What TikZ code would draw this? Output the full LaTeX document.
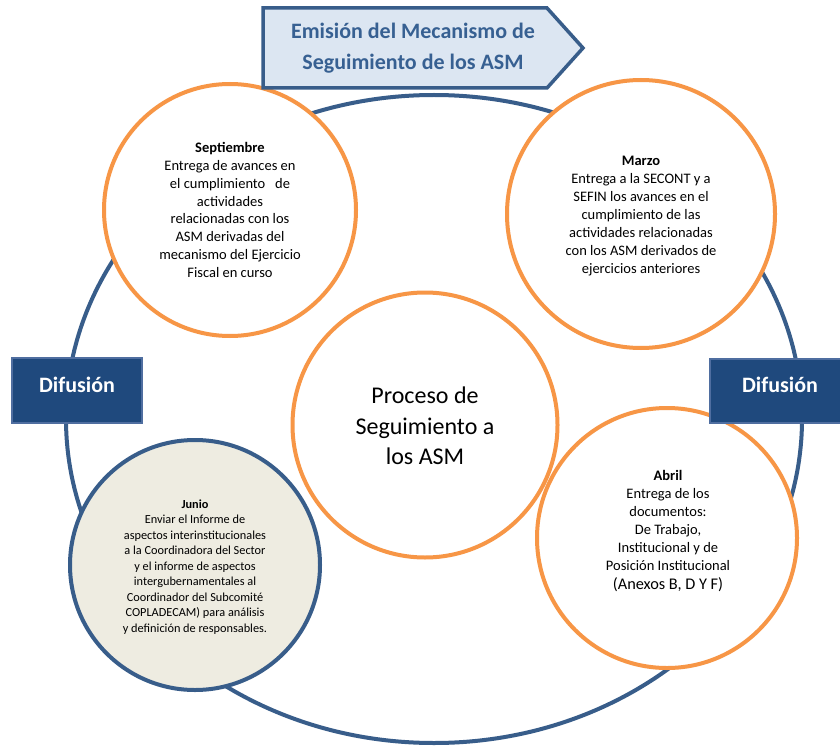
\documentclass[tikz,border=0pt]{standalone}
\usepackage{fontspec}
\setmainfont{Carlito}
\definecolor{blueline}{RGB}{56,93,138}
\definecolor{orangeline}{RGB}{247,150,70}
\definecolor{titlefill}{RGB}{220,230,242}
\definecolor{titletext}{RGB}{55,96,146}
\definecolor{diffill}{RGB}{31,73,125}
\definecolor{difdraw}{RGB}{79,110,160}
\definecolor{junfill}{RGB}{238,236,225}
\tikzset{
  orangecirc/.style={circle, draw=orangeline, line width=4pt, fill=white, inner sep=0pt},
  bluecirc/.style={circle, draw=blueline, line width=4pt, fill=junfill, inner sep=0pt},
  circtxt/.style={align=center, inner sep=0pt, font=\fontsize{14.5}{17.9}\selectfont},
  juntxt/.style={align=center, inner sep=0pt, font=\fontsize{12.3}{15.5}\selectfont},
  centertxt/.style={align=center, inner sep=0pt, font=\fontsize{24}{30.3}\selectfont},
  difbox/.style={rectangle, draw=difdraw, line width=2pt, fill=diffill, minimum width=130pt, minimum height=65pt, inner sep=0pt},
  diftxt/.style={text=white, font=\fontsize{22}{26}\selectfont\bfseries, inner sep=0pt},
  titletxt/.style={align=center, text=titletext, font=\fontsize{22}{31}\selectfont\bfseries, inner sep=0pt}
}
\begin{document}
\begin{tikzpicture}[x=1pt,y=-1pt]
\clip (0,0) rectangle (840,746);
\fill[white] (0,0) rectangle (840,746);
% big ellipse
\draw[blueline, line width=4pt] (434,419) ellipse [x radius=368, y radius=324];
% circles
\node[orangecirc, minimum size=252pt] (sep) at (230,210) {};
\node[orangecirc, minimum size=268pt] (mar) at (641,214) {};
\node[orangecirc, minimum size=265pt] (cen) at (425,425) {};
\node[bluecirc, minimum size=250pt] (jun) at (195,565) {};
\node[orangecirc, minimum size=260pt] (abr) at (667,538) {};
% texts
\node[circtxt] (septxt) at (230,210) {\textbf{Septiembre}\\Entrega de avances en\\el cumplimiento\ \ \ de\\actividades\\relacionadas con los\\ASM derivadas del\\mecanismo del Ejercicio\\Fiscal en curso};
\node[circtxt] (martxt) at (641,216) {\textbf{Marzo}\\Entrega a la SECONT y a\\SEFIN los avances en el\\cumplimiento de las\\actividades relacionadas\\con los ASM derivados de\\ejercicios anteriores};
\node[centertxt] (centxt) at (425,426) {Proceso de\\Seguimiento a\\los ASM};
\node[juntxt] (juntx) at (195,567) {\textbf{Junio}\\Enviar el Informe de\\aspectos interinstitucionales\\a la Coordinadora del Sector\\y el informe de aspectos\\intergubernamentales al\\Coordinador del Subcomit\'e\\COPLADECAM) para an\'alisis\\y definici\'on de responsables.};
\node[circtxt] (abrtxt) at (668,531) {\textbf{Abril}\\Entrega de los\\documentos:\\De Trabajo,\\Institucional y de\\Posici\'on Institucional\\[1.5pt]{\fontsize{16.3}{20}\selectfont (Anexos B, D Y F)}};
% title arrow box
\draw[blueline, line width=3.5pt, fill=titlefill, line join=miter] (263,8) -- (547,8) -- (583,48) -- (547,88) -- (263,88) -- cycle;
\node[titletxt] (title) at (413,48) {Emisi\'on del Mecanismo de\\Seguimiento de los ASM};
% Difusion boxes
\node[difbox] (difL) at (77,390.5) {};
\node[diftxt] (difLt) at (77,385) {Difusi\'on};
\node[difbox, minimum width=140pt, minimum height=64pt] (difR) at (780,391) {};
\node[diftxt] (difRt) at (780,385) {Difusi\'on};
\end{tikzpicture}
\end{document}
